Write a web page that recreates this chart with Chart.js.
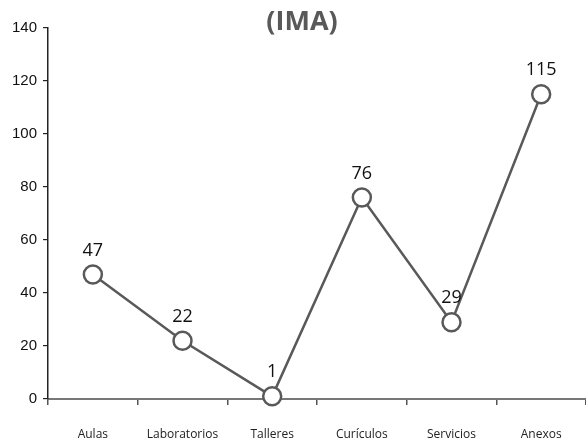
<!DOCTYPE html>
<html>
<head>
<meta charset="utf-8">
<script src="https://cdn.jsdelivr.net/npm/chart.js@4/dist/chart.umd.min.js"></script>
<style>
  html, body { margin: 0; padding: 0; background: #fff; overflow: hidden; }
  #wrap { width: 586px; height: 439px; position: relative; }
  canvas { display: block; }
</style>
</head>
<body>
<div id="wrap"><canvas id="imaChart"></canvas></div>
<script>
// DATA
const categories = ['Aulas', 'Laboratorios', 'Talleres', 'Curículos', 'Servicios', 'Anexos'];
const imaValues = [47, 22, 1, 76, 29, 115];
const yTicks = [0, 20, 40, 60, 80, 100, 120, 140];
const chartTitle = '(IMA)';

const grey = '#595959';

/* draws the value over each point */
const valueLabels = {
  id: 'valueLabels',
  afterDatasetsDraw(chart) {
    const ctx = chart.ctx;
    const meta = chart.getDatasetMeta(0);
    ctx.save();
    ctx.font = '18px "Open Sans", sans-serif';
    ctx.fillStyle = '#111';
    ctx.textAlign = 'center';
    ctx.textBaseline = 'bottom';
    meta.data.forEach((pt, i) => {
      ctx.fillText(String(chart.data.datasets[0].data[i]), pt.x, pt.y - 15);
    });
    ctx.restore();
  }
};

/* title sits over the top of the plot, like the original */
const overTitle = {
  id: 'overTitle',
  afterDraw(chart) {
    const ctx = chart.ctx;
    ctx.save();
    ctx.font = 'bold 27px "Open Sans", sans-serif';
    ctx.fillStyle = grey;
    ctx.textAlign = 'center';
    ctx.textBaseline = 'middle';
    ctx.fillText(chartTitle, 302, 22);
    ctx.restore();
  }
};

const config = {
  type: 'line',
  data: {
    labels: categories,
    datasets: [{
      label: 'IMA',
      data: imaValues,
      borderColor: grey,
      borderWidth: 2.5,
      pointRadius: 9,
      pointHoverRadius: 9,
      pointBorderWidth: 2.5,
      pointBackgroundColor: '#fff',
      pointBorderColor: grey,
      tension: 0,
      clip: false
    }]
  },
  options: {
    responsive: true,
    maintainAspectRatio: false,
    animation: false,
    layout: {
      autoPadding: false, // axis runs to the page edge
      padding: { top: 28, left: 6, right: 0, bottom: 0 }
    },
    scales: {
      x: {
        offset: true,
        afterFit: (scale) => {
          scale.paddingLeft = 0;
          scale.paddingRight = 0;
          scale.height = 40;
        },
        grid: {
          offset: true,
          drawOnChartArea: false,
          drawTicks: true,
          tickLength: 6,
          color: '#555',
          lineWidth: 1.5
        },
        border: { color: '#777', width: 2 },
        ticks: {
          padding: 22,
          maxRotation: 0,
          color: '#222',
          font: { family: '"Open Sans", sans-serif', size: 12 }
        }
      },
      y: {
        min: 0,
        max: 140,
        afterBuildTicks: (axis) => {
          axis.ticks = yTicks.map(v => ({ value: v }));
        },
        grid: {
          drawOnChartArea: false,
          drawTicks: true,
          tickLength: 5,
          color: '#222',
          lineWidth: 1.2
        },
        border: { color: '#222', width: 1.5 },
        ticks: {
          padding: 6,
          color: '#111',
          font: { family: '"Liberation Sans", Arial, sans-serif', size: 15 }
        }
      }
    },
    plugins: {
      legend: { display: false },
      tooltip: { enabled: false },
      title: { display: false }
    }
  },
  plugins: [valueLabels, overTitle]
};

const imaChart = new Chart(document.getElementById('imaChart'), config);
</script>
</body>
</html>
